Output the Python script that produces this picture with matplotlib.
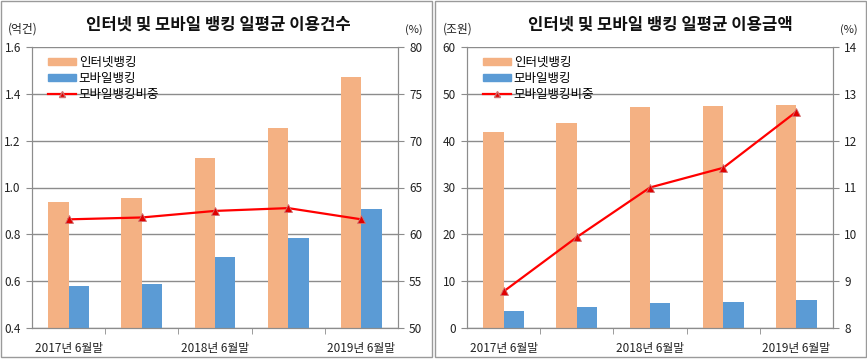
import matplotlib
matplotlib.use("Agg")
import matplotlib.pyplot as plt
from matplotlib.patches import Rectangle
from matplotlib.lines import Line2D
import numpy as np

plt.rcParams['font.family'] = ['Noto Sans CJK KR', 'DejaVu Sans']

categories = ['2017년 6월말', '', '2018년 6월말', '', '2019년 6월말']
series_names = ['인터넷뱅킹', '모바일뱅킹', '모바일뱅킹비중']

# 이용건수 (억건), 비중 (%)
count_internet = [0.937, 0.954, 1.126, 1.252, 1.471]
count_mobile = [0.578, 0.590, 0.704, 0.783, 0.908]
count_share = [61.6, 61.8, 62.5, 62.8, 61.6]

# 이용금액 (조원), 비중 (%)
amount_internet = [41.9, 43.8, 47.2, 47.4, 47.6]
amount_mobile = [3.66, 4.45, 5.3, 5.57, 5.93]
amount_share = [8.78, 9.94, 11.0, 11.42, 12.62]

ORANGE = '#F4B183'
BLUE = '#5B9BD5'
RED = '#FF0000'
GRID = '#8C8C8C'
W, H = 867, 359


def fx(px):
    return px / W


def fy(py):
    return 1 - py / H


def draw_panel(fig, left_px, title, unit_l, unit_r, internet, mobile, share,
               ylim, yticks, ylabels, y2lim, y2ticks, title_x):
    ax = fig.add_axes([fx(left_px), fy(328), fx(366), 281 / H])
    x = np.arange(len(categories))
    bw = 0.28
    ax.bar(x - bw / 2, internet, bw, color=ORANGE, zorder=2)
    ax.bar(x + bw / 2, mobile, bw, color=BLUE, zorder=2)
    ax.set_xlim(-0.5, len(categories) - 0.5)
    ax.set_ylim(*ylim)
    ax.set_yticks(yticks)
    ax.set_yticklabels(ylabels, fontsize=8.5, color='#222222')
    ax.grid(axis='y', color=GRID, linewidth=1, zorder=0)
    ax.set_axisbelow(True)
    ax.set_xticks([0, 2, 4])
    ax.set_xticklabels([categories[i] for i in [0, 2, 4]], fontsize=8.5, color='#222222')
    ax.set_xticks(np.arange(0.5, len(categories) - 0.5, 1), minor=True)
    ax.tick_params(axis='x', which='major', length=0, pad=10)
    ax.tick_params(axis='x', which='minor', length=4, color=GRID, direction='out')
    ax.tick_params(axis='y', length=4, color=GRID, pad=4)
    for s in ['left', 'right', 'bottom']:
        ax.spines[s].set_color(GRID)
    ax.spines['top'].set_visible(False)

    ax2 = ax.twinx()
    ax2.plot(x, share, color=RED, linewidth=1.6, marker='^', markersize=5.5,
             markerfacecolor='#E00000', markeredgecolor='#D07070', markeredgewidth=0.6, zorder=3)
    ax2.set_ylim(*y2lim)
    ax2.set_yticks(y2ticks)
    ax2.tick_params(axis='y', length=4, color=GRID, labelsize=8.5, labelcolor='#222222', pad=4)
    for s in ['left', 'right', 'bottom']:
        ax2.spines[s].set_color(GRID)
    ax2.spines['top'].set_visible(False)

    handles = [Rectangle((0, 0), 1, 1, color=ORANGE),
               Rectangle((0, 0), 1, 1, color=BLUE),
               Line2D([], [], color=RED, linewidth=1.6, marker='^', markersize=4,
                      markerfacecolor='#E00000', markeredgecolor='#D07070')]
    leg = ax2.legend(handles, series_names, loc='upper left', frameon=False,
                     fontsize=9, handlelength=2.2, handleheight=0.45,
                     handletextpad=0.25, labelspacing=0.25,
                     borderaxespad=0.3, bbox_to_anchor=(0.02, 1.0))

    fig.text(fx(title_x), fy(25), title, fontsize=12, fontweight='bold',
             ha='center', va='center', color='#111111')
    fig.text(fx(left_px - 24), fy(29), unit_l, fontsize=8.5, ha='left', va='center',
             color='#222222')
    fig.text(fx(left_px + 382), fy(30), unit_r, fontsize=8, ha='center', va='center',
             color='#222222')


fig = plt.figure(figsize=(W / 100, H / 100), dpi=100)

draw_panel(fig, 32, '인터넷 및 모바일 뱅킹 일평균 이용건수', '(억건)', '(%)',
           count_internet, count_mobile, count_share,
           (0.4, 1.6), np.arange(0.4, 1.61, 0.2),
           ['0.4', '0.6', '0.8', '1.0', '1.2', '1.4', '1.6'],
           (50, 80), np.arange(50, 81, 5), 218)

draw_panel(fig, 467, '인터넷 및 모바일 뱅킹 일평균 이용금액', '(조원)', '(%)',
           amount_internet, amount_mobile, amount_share,
           (0, 60), np.arange(0, 61, 10),
           ['0', '10', '20', '30', '40', '50', '60'],
           (8, 14), np.arange(8, 15, 1), 660)

# panel borders
for x0, x1 in [(0.5, 432), (435, 866)]:
    fig.patches.append(Rectangle((fx(x0), fy(357)), fx(x1 - x0), (357 - 1) / H,
                                 transform=fig.transFigure, fill=False,
                                 edgecolor='#9A9A9A', linewidth=1))

fig.savefig('out.png', dpi=100)
